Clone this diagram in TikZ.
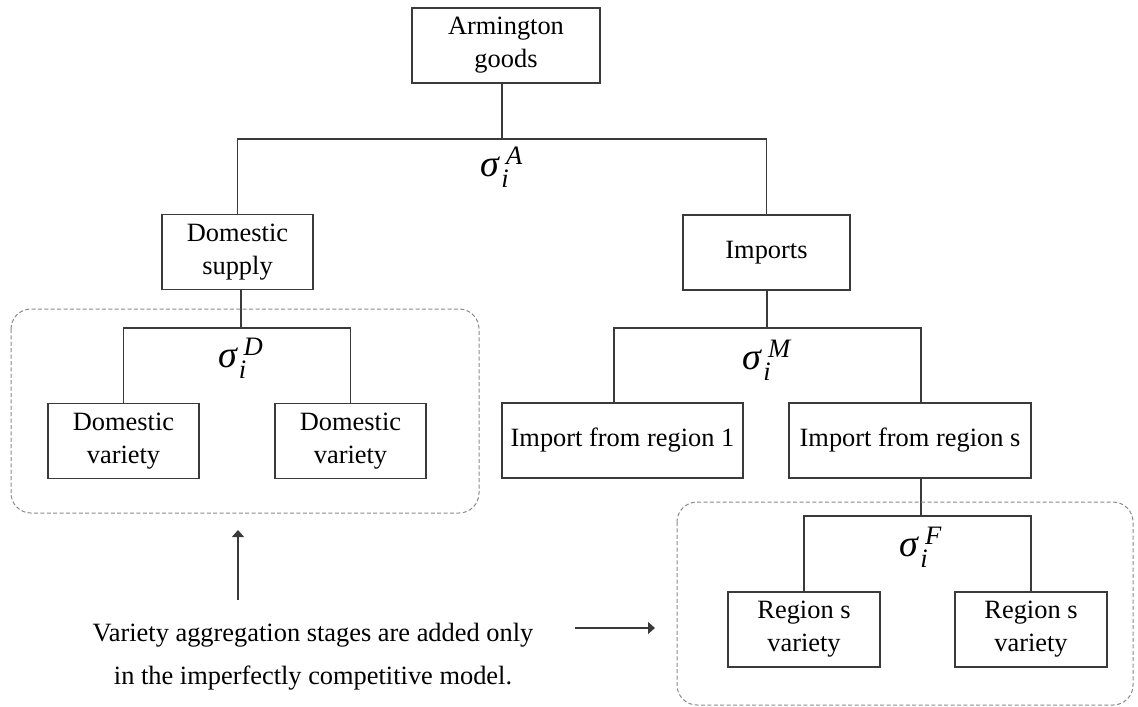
\documentclass[tikz,border=0pt]{standalone}
\usepackage{amsmath}
\usepackage{fontspec}
\setmainfont{Liberation Serif}
\usetikzlibrary{arrows.meta}
\definecolor{linegray}{HTML}{3A3A3A}
\definecolor{dashgray}{HTML}{8A8A8A}
\newcommand{\elast}[1]{{\itshape σ}$\mkern1mu{}_{\textit{i}}^{\,\textit{#1}}$}
\begin{document}
\begin{tikzpicture}[x=0.5pt, y=-0.5pt, >={Triangle[length=3.5pt, width=6pt]}, line width=0.6pt,
	every node/.style={font=\fontsize{13.2}{16.5}\selectfont},
	box/.style={draw=linegray, align=center, minimum height=37.5pt, inner sep=0pt},
	elas/.style={font=\fontsize{19}{21}\selectfont, inner sep=0pt},
	link/.style={draw=linegray},
	stage/.style={draw=dashgray, dash pattern=on 2pt off 1.2pt, rounded corners=10pt, line width=0.5pt}]
	\useasboundingbox (0,0) rectangle (1138,706);
	
	% === 顶层：Armington ===
	\node[box, minimum width=94pt] (arm) at (506,45.5) {Armington\\goods};
	\coordinate (jA) at (502,139);
	\node[elas] (sA) at ([yshift=-14pt]jA) {\elast{A}};
	
	% 第二层
	\node[box, minimum width=75.5pt] (dom) at (237.5,252) {Domestic\\supply};
	\node[box, minimum width=83.5pt] (imp) at (766.5,252.5) {Imports};
	
	\draw[link] (jA |- arm.south) -- (jA);
	\draw[link] (dom.north) |- (jA) -| (imp.north);
	
	% === 左支：国内品种 ===
	\coordinate (jD) at (241,328);
	\node[elas] (sD) at ([yshift=-15pt]jD) {\elast{D}};
	\node[box, minimum width=75.5pt] (dv1) at (123.5,441) {Domestic\\variety};
	\node[box, minimum width=75.5pt] (dv2) at (350.5,441) {Domestic\\variety};
	
	\draw[link] (jD |- dom.south) -- (jD);
	\draw[link] (dv1.north) |- (jD) -| (dv2.north);
	
	% === 右支：进口 ===
	\coordinate (jM) at (767,328);
	\node[elas] (sM) at ([yshift=-16pt]jM) {\elast{M}};
	\node[box, minimum width=120.5pt] (ir1) at (622.5,440.5) {Import from region 1};
	\node[box, minimum width=121pt] (irs) at (910,440.5) {Import from region s};
	\coordinate (k1) at (614,328);
	\coordinate (ks) at (921,328);
	
	\draw[link] (jM |- imp.south) -- (jM);
	\draw[link] (k1 |- ir1.north) -- (k1) -- (ks) -- (ks |- irs.north);
	
	% 区域 s 的品种
	\coordinate (jF) at (921,516);
	\node[elas] (sF) at ([yshift=-15.5pt]jF) {\elast{F}};
	\node[box, minimum width=76pt] (rv1) at (804,629.5) {Region s\\variety};
	\node[box, minimum width=76pt] (rv2) at (1031,629.5) {Region s\\variety};
	
	\draw[link] (jF |- irs.south) -- (jF);
	\draw[link] (rv1.north) |- (jF) -| (rv2.north);
	
	% === 虚线框与说明 ===
	\draw[stage] (11,309) rectangle (479,513);
	\draw[stage] (677,502) rectangle (1133,705);
	
	\node[align=center, font=\fontsize{13.2}{21.5}\selectfont] (note) at (313,657)
		{Variety aggregation stages are added only\\in the imperfectly competitive model.};
	\coordinate (upfoot) at (238,600);
	\coordinate (uptip) at (238,530);
	\coordinate (rtfoot) at (575,628);
	\coordinate (rttip) at (655,628);
	\draw[->, linegray] (upfoot) -- (uptip);
	\draw[->, linegray] (rtfoot) -- (rttip);
\end{tikzpicture}
\end{document}
